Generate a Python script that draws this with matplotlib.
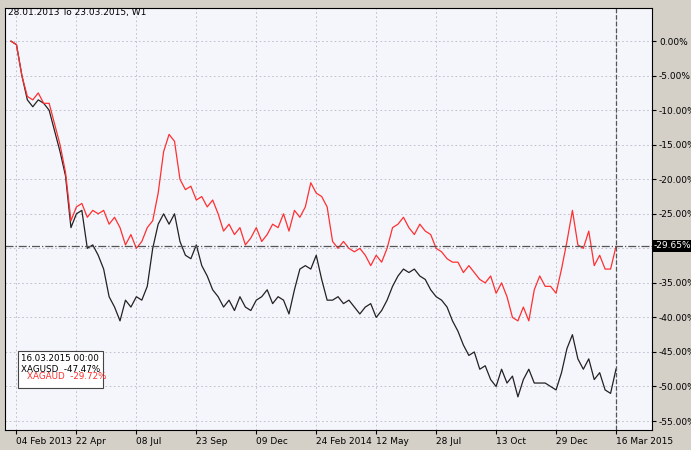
import matplotlib.pyplot as plt
import numpy as np

# weekly closes, % change since 28.01.2013
xagusd = [0, -0.5, -5, -8.5, -9.5, -8.5, -9, -10, -13, -16, -19.5, -27, -25, -24.5, -30, -29.5,
          -31, -33, -37, -38.5, -40.5, -37.5, -38.5, -37, -37.5, -35.5, -30, -26.5, -25, -26.5,
          -25, -29, -31, -31.5, -29.5, -32.5, -34, -36, -37, -38.5, -37.5, -39, -37, -38.5, -39,
          -37.5, -37, -36, -38, -37, -37.5, -39.5, -36, -33, -32.5, -33, -31, -34.5, -37.5, -37.5,
          -37, -38, -37.5, -38.5, -39.5, -38.5, -38, -40, -39, -37.5, -35.5, -34, -33, -33.5, -33,
          -34, -34.5, -36, -37, -37.5, -38.5, -40.5, -42, -44, -45.5, -45, -47.5, -47, -49, -50,
          -47.5, -49.5, -48.5, -51.5, -49, -47.5, -49.5, -49.5, -49.5, -50, -50.5, -48, -44.5,
          -42.5, -46, -47.5, -46, -49, -48, -50.5, -51, -47.47]
xagaud = [0, -0.5, -5, -8, -8.5, -7.5, -9, -9, -12, -15, -19, -26, -24, -23.5, -25.5, -24.5,
          -25, -24.5, -26.5, -25.5, -27, -29.5, -28, -30, -29, -27, -26, -22, -16, -13.5, -14.5,
          -20, -21.5, -21, -23, -22.5, -24, -23, -25, -27.5, -26.5, -28, -27, -29.5, -28.5, -27,
          -29, -28, -26.5, -27, -25, -27.5, -24.5, -25.5, -24, -20.5, -22, -22.5, -24, -29, -30,
          -29, -30, -30.5, -30, -31, -32.5, -31, -32, -30, -27, -26.5, -25.5, -27, -28, -26.5,
          -27.5, -28, -30, -30.5, -31.5, -32, -32, -33.5, -32.5, -33.5, -34.5, -35, -34, -36.5, -35,
          -37, -40, -40.5, -38.5, -40.5, -36, -34, -35.5, -35.5, -36.5, -33, -29, -24.5, -29.5,
          -30, -27.5, -32.5, -31, -33, -33, -29.72]
tick_weeks = [1, 12, 23, 34, 45, 56, 67, 78, 89, 100, 111]
tick_labels = ["04 Feb 2013", "22 Apr", "08 Jul", "23 Sep", "09 Dec", "24 Feb 2014",
               "12 May", "28 Jul", "13 Oct", "29 Dec", "16 Mar 2015"]
yticks = np.arange(0, -56, -5)
level = -29.65

fig = plt.figure(figsize=(6.91, 4.5), dpi=100, facecolor="#d4d0c8")
ax = fig.add_axes([5 / 691, 20 / 450, 647 / 691, 422 / 450], facecolor="#f5f5fc")
w = np.arange(len(xagusd))
ax.plot(w, xagusd, color="#222222", lw=0.9)
ax.plot(w, xagaud, color="#ff3030", lw=0.9)
ax.set_xlim(-1.1, 117.6)
ax.set_ylim(-56.3, 4.8)
ax.yaxis.tick_right()
ax.set_yticks(yticks)
ax.set_yticklabels([f"{v:.2f}%" for v in yticks], fontsize=6.5)
ax.set_xticks(tick_weeks)
ax.set_xticklabels(tick_labels, fontsize=6.5)
for lbl in ax.get_xticklabels():
    lbl.set_horizontalalignment("left")
ax.tick_params(length=3, pad=2)
ax.grid(True, color="#b8b8c8", ls=(0, (2, 3)), lw=0.6)
ax.axhline(level, color="#555555", ls="-.", lw=0.9)
ax.axvline(len(xagusd) - 1, color="#555555", ls="--", lw=0.9)
ax.text(1.002, level, f"{level:.2f}%", transform=ax.get_yaxis_transform(), fontsize=6.5,
        color="white", va="center", ha="left", bbox=dict(fc="black", ec="none", pad=1))
fig.text(8 / 691, 1 - 12 / 450, "28.01.2013 To 23.03.2015, W1", fontsize=6.5, va="center")

leg = ax.text(1.8, -45.3, "16.03.2015 00:00\nXAGUSD  -47.47%\n", fontsize=6.3,
              va="top", ha="left", linespacing=1.3,
              bbox=dict(fc="white", ec="#444444", lw=0.8, pad=2))
ax.text(2.9, -47.9, "XAGAUD  -29.72%", fontsize=6.3, color="#ff3030", va="top", ha="left")
fig.savefig("out.png", dpi=100, facecolor=fig.get_facecolor())
